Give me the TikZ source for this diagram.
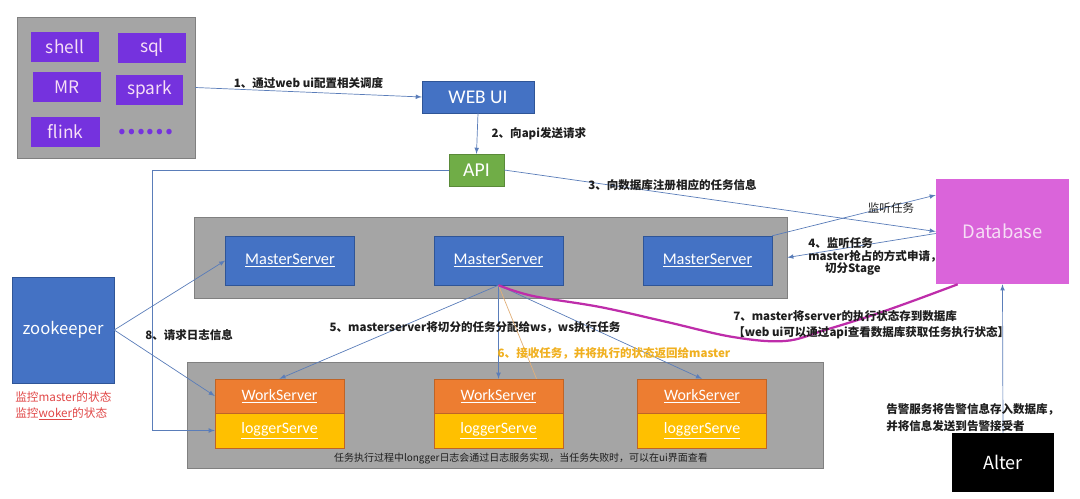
\documentclass[tikz,border=0pt]{standalone}
\usepackage{fontspec}
\setmainfont{Noto Sans CJK SC}
\newfontfamily\carlito{Carlito}
\usetikzlibrary{arrows,positioning}
\definecolor{boxgray}{RGB}{165,165,165}
\definecolor{boxedge}{RGB}{128,128,128}
\definecolor{jobpurple}{RGB}{117,50,222}
\definecolor{jobtext}{RGB}{246,222,246}
\definecolor{msblue}{RGB}{68,114,196}
\definecolor{blueedge}{RGB}{47,85,151}
\definecolor{apigreen}{RGB}{112,173,71}
\definecolor{dbpink}{RGB}{218,100,218}
\definecolor{wsorange}{RGB}{237,125,49}
\definecolor{logyellow}{RGB}{255,192,0}
\definecolor{lineblue}{RGB}{90,125,185}
\definecolor{curvemag}{RGB}{190,45,170}
\definecolor{notetext}{RGB}{30,30,30}
\definecolor{redtext}{RGB}{224,70,70}
\definecolor{orangetext}{RGB}{240,176,32}
\definecolor{tanline}{RGB}{225,175,120}

\begin{document}
\begin{tikzpicture}
  [x=0.025cm,y=-0.025cm,
   gray box/.style={draw=boxedge,fill=boxgray,inner sep=0pt},
   job node/.style={fill=jobpurple,text=jobtext,minimum width=1.7cm,minimum height=0.75cm,inner sep=0pt,font=\fontsize{12.3}{14}\selectfont},
   main node/.style={draw=blueedge,fill=msblue,text=white,inner sep=0pt,line width=0.3pt},
   ms node/.style={main node,minimum width=3.225cm,minimum height=1.225cm,font=\carlito\fontsize{11.6}{14}\selectfont},
   ws node/.style={draw=wsorange!80!black,fill=wsorange,text=white,minimum width=3.225cm,minimum height=0.85cm,inner sep=0pt,line width=0.3pt,font=\carlito\fontsize{11.3}{14}\selectfont},
   log node/.style={ws node,fill=logyellow,minimum height=0.875cm},
   arr/.style={->,>=latex,draw=lineblue,line width=0.5pt},
   note/.style={inner sep=0pt,text=notetext,font=\bfseries\fontsize{8.2}{9}\selectfont}]

  \useasboundingbox (0,0) rectangle (1080,499);

  \node[gray box,minimum width=4.45cm,minimum height=3.525cm] (tools) at (106,87.5) {};
  \node[job node] (shell) at (65,47) {shell};
  \node[job node] (sql) at (152,48) {sql};
  \node[job node] (mr) at (67,87) {MR};
  \node[job node,minimum width=1.675cm] (spark) at (149.5,90) {spark};
  \node[job node,minimum width=1.725cm] (flink) at (65.5,132) {flink};
  \node[inner sep=0pt,text=jobpurple,font=\bfseries\fontsize{18}{18}\selectfont] (more) at (145.5,132) {……};

  \node[main node,minimum width=2.8cm,minimum height=0.8cm,font=\carlito\fontsize{13.8}{16}\selectfont] (webui) at (478,97) {WEB UI};
  \node[main node,draw=apigreen!80!black,fill=apigreen,minimum width=1.375cm,minimum height=0.8cm,font=\carlito\fontsize{14}{16}\selectfont] (api) at (476.5,170) {API};
  \node[fill=dbpink,text=jobtext,minimum width=3.325cm,minimum height=2.625cm,inner sep=0pt,font=\fontsize{13.1}{15}\selectfont] (db) at (1002.5,231.5) {Database};

  \node[gray box,minimum width=14.825cm,minimum height=2.025cm] (masters) at (490.5,257.5) {};
  \node[ms node] (ms1) at (290,260.5) {\underline{MasterServer}};
  \node[ms node] (ms2) at (498.5,260.5) {\underline{MasterServer}};
  \node[ms node] (ms3) at (707.5,260.5) {\underline{MasterServer}};

  \node[main node,minimum width=2.55cm,minimum height=2.65cm,font=\fontsize{11.8}{14}\selectfont] (zk) at (63,330) {zookeeper};
  \node[anchor=west,align=left,inner sep=0pt,text=redtext,font=\fontsize{8.3}{11.3}\selectfont] (zknote) at (15,406) {监控master的状态\\监控\underline{woker}的状态};

  \node[gray box,minimum width=15.9cm,minimum height=2.65cm] (workers) at (505,415) {};
  \node[ws node] (ws1) at (279.5,396) {\underline{WorkServer}};
  \node[log node] (lg1) at (279.5,430.5) {\underline{loggerServe}};
  \node[ws node] (ws2) at (498.5,396) {\underline{WorkServer}};
  \node[log node] (lg2) at (498.5,430.5) {\underline{loggerServe}};
  \node[ws node] (ws3) at (702,396) {\underline{WorkServer}};
  \node[log node] (lg3) at (702,430.5) {\underline{loggerServe}};
  \node[inner sep=0pt,text=notetext,font=\fontsize{7.1}{8}\selectfont] (lognote) at (521,459) {任务执行过程中longger日志会通过日志服务实现，当任务失败时，可以在ui界面查看};

  \node[fill=black,text=white,minimum width=2.55cm,minimum height=1.475cm,inner sep=0pt,font=\fontsize{12.8}{15}\selectfont] (alter) at (1003,462.5) {Alter};

  \coordinate (logbus) at (152,170);

  \draw[arr] (tools.east) to node[note,above=2pt] {1、通过web ui配置相关调度} (webui.west);
  \draw[arr] (webui.south) to node[note,right=10pt] {2、向api发送请求} (api.north);
  \draw[arr] (api.east) -- (db.west);
  \node[note,anchor=west] (step3) at (588,185) {3、向数据库注册相应的任务信息};
  \draw[arr] (api.west) -- (logbus) |- (lg1.west);
  \node[note,anchor=west] (step8) at (145,335) {8、请求日志信息};
  \draw[arr] (ms3.north east) -- ([yshift=0.91cm]db.west);
  \node[note,font=\fontsize{8.2}{9}\selectfont] (listen) at (891,208) {监听任务};
  \draw[arr] ([yshift=-0.05cm]db.west) -- (masters.east);
  \node[note,anchor=west,align=left,font=\bfseries\fontsize{8.2}{8.9}\selectfont] (step4) at (808,256.5) {4、监听任务\\master抢占的方式申请，\\\hspace*{12pt}切分Stage};

  \draw[arr] (zk.east) -- (ms1.west);
  \draw[arr] (zk.east) -- (ws1.west);

  \draw[arr] (ms2.south) -- (ws1.north);
  \draw[arr] (ms2.south) -- (ws2.north);
  \draw[arr] (ms2.south) -- (ws3.north);
  \node[note] (step5) at (475,327) {5、masterserver将切分的任务分配给ws，ws执行任务};
  \draw[tanline,line width=0.5pt] (ms2.south) -- ([xshift=0.95cm]ws2.north);
  \node[note,text=orangetext] (step6) at (614,353) {6、接收任务，并将执行的状态返回给master};

  \draw[curvemag,line width=1.6pt] plot[smooth,tension=0.6] coordinates
    {(ms2.south) (533,296) (600,307) (667,322) (733,337) (785,341) (825,330) (870,316) (910,302) ([xshift=0.55cm]db.south west)};
  \node[note,anchor=west,align=left,font=\bfseries\fontsize{8.2}{11.3}\selectfont] (step7) at (733,325) {7、master将server的执行状态存到数据库\\【web ui可以通过api查看数据库获取任务执行状态】};

  \draw[arr] (alter.north) -- (db.south);
  \node[note,anchor=west,align=left,font=\bfseries\fontsize{8.2}{11.6}\selectfont] (alert) at (886,417.5) {告警服务将告警信息存入数据库，\\并将信息发送到告警接受者};
\end{tikzpicture}
\end{document}
